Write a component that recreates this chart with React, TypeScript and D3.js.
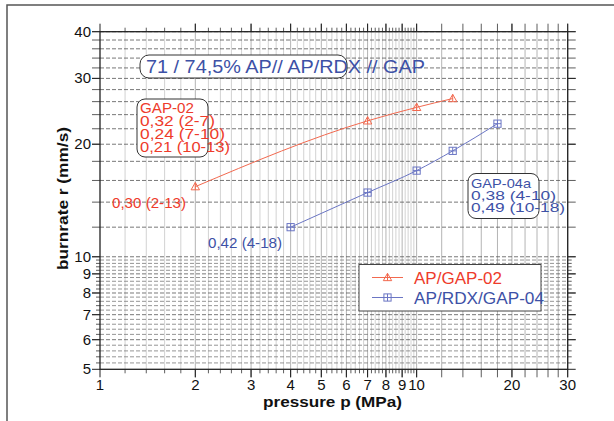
import React from "react";
import * as d3 from "d3";

const W = 614;
const H = 421;

// Data
const apGapP = [2, 7, 10, 13];
const apGapR = [15.4, 23.1, 25.1, 26.5];
const rdxP = [4, 7, 10, 13, 18];
const rdxR = [12.0, 14.85, 17.0, 19.2, 22.7];

const xTickLabels = [1, 2, 3, 4, 5, 6, 7, 8, 9, 10, 20, 30];
const yTickLabels = [5, 6, 7, 8, 9, 10, 20, 30, 40];

const titleText = "71 / 74,5% AP// AP/RDX // GAP";
const gap02Lines = ["GAP-02", "0,32 (2-7)", "0,24 (7-10)", "0,21 (10-13)"];
const gap02Widths = [54, 75, 85, 90];
const gap04Lines = ["GAP-04a", "0,38 (4-10)", "0,49 (10-18)"];
const gap04Widths = [60, 85, 94];
const gap02Fit = "0,30 (2-13)";
const gap04Fit = "0,42 (4-18)";
const legendNames = ["AP/GAP-02", "AP/RDX/GAP-04"];
const legendWidths = [88, 130];

const RED_TEXT = "#ee3b2b";
const RED_LINE = "#f2694f";
const BLUE_TEXT = "#3d51a6";
const BLUE_LINE = "#6b76c4";
const FONT = "'Liberation Sans', Arial, Helvetica, sans-serif";

const x = d3.scaleLog().domain([1, 30]).range([100, 567.7]);
const y = d3.scaleLog().domain([5, 40]).range([369.3, 31.7]);

const round = (v: number) => Math.round(v * 1000) / 1000;
const xGrid = [
  ...d3.range(1.2, 10, 0.2).map(round),
  ...d3.range(10, 30.01, 2).map(round),
];
const yGrid = [
  ...d3.range(5.2, 10, 0.2).map(round),
  ...d3.range(10, 40.01, 2).map(round),
];
const isInt = (v: number) => Math.abs(v - Math.round(v)) < 1e-6;

function Triangle({ cx, cy, color }: { cx: number; cy: number; color: string }) {
  const s = 4.2;
  return (
    <g stroke={color} strokeWidth={1} fill="none">
      <path d={`M${cx},${cy - s} L${cx + s},${cy + s * 0.75} L${cx - s},${cy + s * 0.75} Z`} />
      <line x1={cx} y1={cy - s} x2={cx} y2={cy + s * 0.75} />
    </g>
  );
}

function Square({ cx, cy, color }: { cx: number; cy: number; color: string }) {
  const s = 3.6;
  return (
    <g stroke={color} strokeWidth={1} fill="none">
      <rect x={cx - s} y={cy - s} width={2 * s} height={2 * s} />
      <line x1={cx} y1={cy - s} x2={cx} y2={cy + s} />
      <line x1={cx - s} y1={cy} x2={cx + s} y2={cy} />
    </g>
  );
}

export default function App() {
  const [x0, x1] = x.range();
  const [yb, yt] = y.range();
  const line = d3
    .line<[number, number]>()
    .x((d) => x(d[0]))
    .y((d) => y(d[1]))
    .curve(d3.curveMonotoneX);
  const redPts = apGapP.map((p, i) => [p, apGapR[i]] as [number, number]);
  const bluePts = rdxP.map((p, i) => [p, rdxR[i]] as [number, number]);

  return (
    <svg
      width={W}
      height={H}
      style={{ position: "absolute", left: 0, top: 0, background: "#fff" }}
      fontFamily={FONT}
    >
      <rect x={0} y={0} width={W} height={H} fill="#fff" />
      {/* outer frame */}
      <rect x={7} y={5} width={W + 20} height={H + 20} fill="none" stroke="#555" strokeWidth={1.5} />

      {/* vertical grid */}
      {xGrid.map((v) => (
        <line
          key={"vx" + v}
          x1={x(v)}
          x2={x(v)}
          y1={yt}
          y2={yb}
          stroke={isInt(v) ? "#b4b4b4" : "#d2d2d2"}
          strokeWidth={1}
        />
      ))}
      {/* horizontal grid */}
      {yGrid.map((v) => (
        <line
          key={"hy" + v}
          x1={x0}
          x2={x1}
          y1={y(v)}
          y2={y(v)}
          stroke={isInt(v) ? "#555" : "#7a7a7a"}
          strokeWidth={0.8}
          strokeDasharray="4,2"
        />
      ))}

      {/* minor ticks */}
      {xGrid.map((v) => (
        <g key={"tx" + v} stroke="#333" strokeWidth={0.8}>
          <line x1={x(v)} x2={x(v)} y1={yt} y2={yt - (isInt(v) ? 8 : 4)} />
          <line x1={x(v)} x2={x(v)} y1={yb} y2={yb + (isInt(v) ? 8 : 4)} />
        </g>
      ))}
      {yGrid.map((v) => (
        <g key={"ty" + v} stroke="#333" strokeWidth={0.8}>
          <line x1={x0} x2={x0 - (isInt(v) ? 8 : 4)} y1={y(v)} y2={y(v)} />
          <line x1={x1} x2={x1 + (isInt(v) ? 8 : 4)} y1={y(v)} y2={y(v)} />
        </g>
      ))}
      {/* major ticks */}
      {xTickLabels.map((v) => (
        <g key={"mx" + v} stroke="#222" strokeWidth={1}>
          <line x1={x(v)} x2={x(v)} y1={yt} y2={yt - 8} />
          <line x1={x(v)} x2={x(v)} y1={yb} y2={yb + 8} />
        </g>
      ))}
      {yTickLabels.map((v) => (
        <g key={"my" + v} stroke="#222" strokeWidth={1}>
          <line x1={x0} x2={x0 - 8} y1={y(v)} y2={y(v)} />
          <line x1={x1} x2={x1 + 8} y1={y(v)} y2={y(v)} />
        </g>
      ))}

      {/* plot frame */}
      <rect x={x0} y={yt} width={x1 - x0} height={yb - yt} fill="none" stroke="#222" strokeWidth={1.3} />

      {/* tick labels */}
      {xTickLabels.map((v) => (
        <text key={"lx" + v} x={x(v)} y={yb + 21} fontSize={15} textAnchor="middle" fill="#111">
          {v}
        </text>
      ))}
      {yTickLabels.map((v) => (
        <text key={"ly" + v} x={x0 - 9} y={y(v) + 5} fontSize={15} textAnchor="end" fill="#111">
          {v}
        </text>
      ))}

      {/* axis titles */}
      <text
        x={263}
        y={407}
        fontSize={15.5}
        fontWeight="bold"
        fill="#111"
        textLength={139}
        lengthAdjust="spacingAndGlyphs"
      >
        pressure p (MPa)
      </text>
      <text
        transform={`translate(68,270) rotate(-90)`}
        fontSize={15.5}
        fontWeight="bold"
        fill="#111"
        textLength={143}
        lengthAdjust="spacingAndGlyphs"
      >
        burnrate r (mm/s)
      </text>

      {/* series */}
      <path d={line(redPts) || ""} fill="none" stroke={RED_LINE} strokeWidth={1} />
      <path d={line(bluePts) || ""} fill="none" stroke={BLUE_LINE} strokeWidth={1} />
      {redPts.map((d, i) => (
        <Triangle key={"r" + i} cx={x(d[0])} cy={y(d[1])} color={RED_LINE} />
      ))}
      {bluePts.map((d, i) => (
        <Square key={"b" + i} cx={x(d[0])} cy={y(d[1])} color={BLUE_LINE} />
      ))}

      {/* title box */}
      <rect x={140} y={55} width={207} height={23} rx={9} fill="#fff" stroke="#333" strokeWidth={1} />
      <text
        x={146}
        y={73}
        fontSize={17.5}
        fill={BLUE_TEXT}
        textLength={279}
        lengthAdjust="spacingAndGlyphs"
      >
        {titleText}
      </text>

      {/* GAP-02 box */}
      <rect x={137} y={99} width={71} height={58} rx={8} fill="#fff" stroke="#333" strokeWidth={1} />
      {gap02Lines.map((t, i) => (
        <text
          key={"g2" + i}
          x={140}
          y={113 + i * 12.9}
          fontSize={14}
          fill={RED_TEXT}
          textLength={gap02Widths[i]}
          lengthAdjust="spacingAndGlyphs"
        >
          {t}
        </text>
      ))}
      <text x={112} y={207.5} fontSize={14} fill={RED_TEXT} textLength={74} lengthAdjust="spacingAndGlyphs">
        {gap02Fit}
      </text>

      {/* GAP-04a box */}
      <rect x={468} y={173.5} width={71} height={45} rx={8} fill="#fff" stroke="#333" strokeWidth={1} />
      {gap04Lines.map((t, i) => (
        <text
          key={"g4" + i}
          x={471}
          y={187.5 + i * 12.4}
          fontSize={13.5}
          fill={BLUE_TEXT}
          textLength={gap04Widths[i]}
          lengthAdjust="spacingAndGlyphs"
        >
          {t}
        </text>
      ))}
      <text x={208} y={248} fontSize={14} fill={BLUE_TEXT} textLength={74} lengthAdjust="spacingAndGlyphs">
        {gap04Fit}
      </text>

      {/* legend */}
      <rect x={359} y={264.5} width={182} height={46.5} fill="#fff" stroke="#444" strokeWidth={1} />
      <line x1={372} x2={403} y1={277.5} y2={277.5} stroke={RED_LINE} strokeWidth={1} />
      <Triangle cx={387.5} cy={277.5} color={RED_LINE} />
      <text
        x={414}
        y={283.5}
        fontSize={17}
        fill={RED_TEXT}
        textLength={legendWidths[0]}
        lengthAdjust="spacingAndGlyphs"
      >
        {legendNames[0]}
      </text>
      <line x1={372} x2={403} y1={297.5} y2={297.5} stroke={BLUE_LINE} strokeWidth={1} />
      <Square cx={387.5} cy={297.5} color={BLUE_LINE} />
      <text
        x={414}
        y={303.5}
        fontSize={17}
        fill={BLUE_TEXT}
        textLength={legendWidths[1]}
        lengthAdjust="spacingAndGlyphs"
      >
        {legendNames[1]}
      </text>
    </svg>
  );
}
